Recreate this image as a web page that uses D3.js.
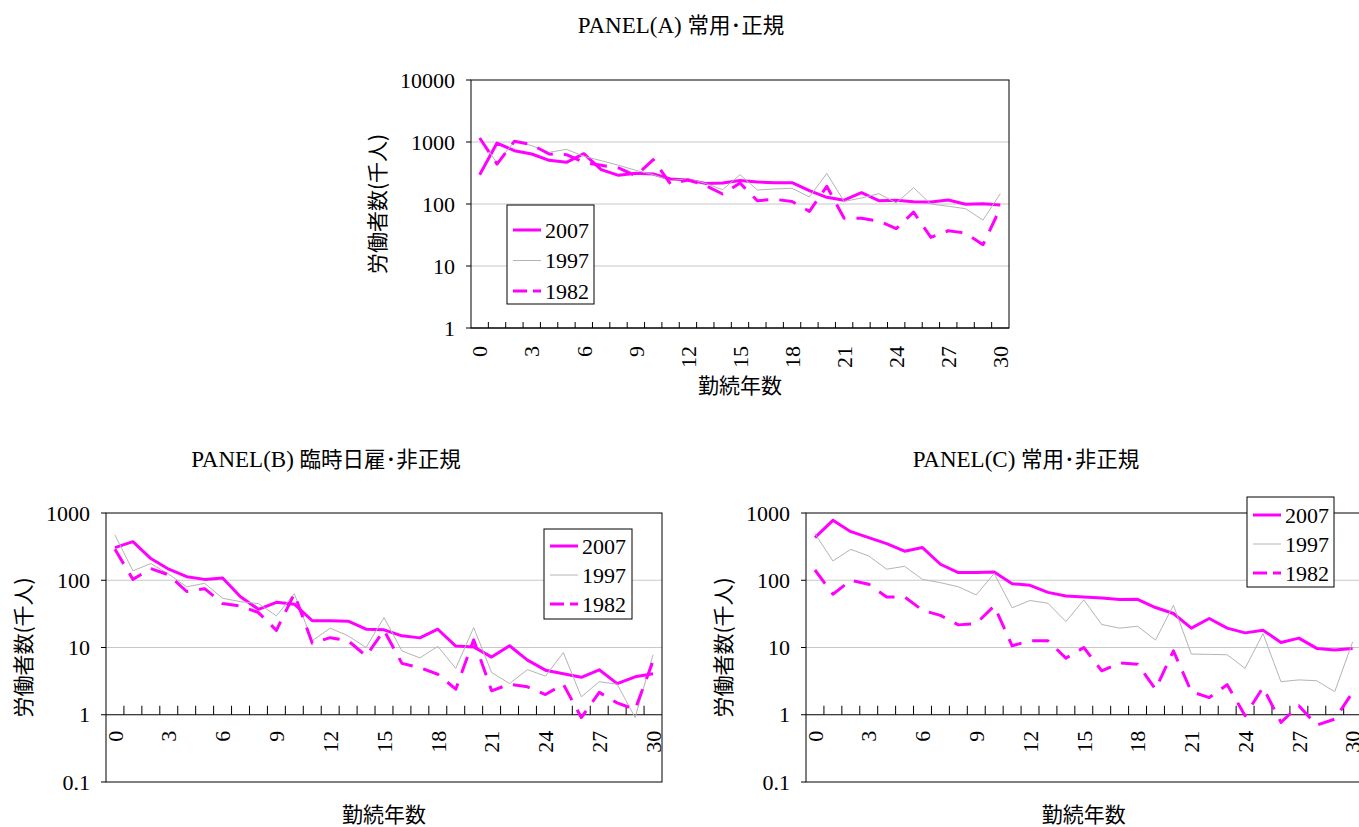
<!DOCTYPE html>
<html>
<head>
<meta charset="utf-8">
<script src="https://cdn.jsdelivr.net/npm/d3@7"></script>
<style>
  body { margin: 0; background: #fff; }
  svg { display: block; background: #fff; }
  text { font-family: "Liberation Serif", "Times New Roman", serif; fill: #000; }
  .cjk { font-family: "Noto Sans CJK JP", sans-serif; }
  .grid { stroke: #c8c8c8; stroke-width: 1.2; }
  .frame { fill: none; stroke: #000; stroke-width: 1; }
  .axis-line { stroke: #000; stroke-width: 1; }
  .legend-box { fill: #fff; stroke: #000; stroke-width: 1; }
</style>
</head>
<body>
<div id="chart"></div>
<script>
// 勤続年数 categories
const tenure = [0, 1, 2, 3, 4, 5, 6, 7, 8, 9, 10, 11, 12, 13, 14, 15,
  16, 17, 18, 19, 20, 21, 22, 23, 24, 25, 26, 27, 28, 29, 30];
const xTickLabels = [0, 3, 6, 9, 12, 15, 18, 21, 24, 27, 30];
const seriesNames = ['2007', '1997', '1982'];
const yTicksA = [1, 10, 100, 1000, 10000];
const yTicksBC = [0.1, 1, 10, 100, 1000];

// PANEL(A) 常用・正規 (千人)
const a2007 = [297, 963, 724, 640, 506, 470, 648, 358, 290, 312, 305, 253, 244, 215, 218, 240,
  226, 221, 221, 164, 128, 115, 152, 113, 115, 109, 108, 116, 99, 101, 96];
const a1997 = [1150, 458, 1025, 873, 681, 762, 588, 500, 421, 349, 297, 238, 256, 215, 170, 297,
  168, 175, 179, 130, 312, 110, 125, 147, 104, 183, 100, 92, 84, 55, 147];
const a1982 = [1161, 441, 1025, 906, 640, 625, 470, 421, 381, 286, 518, 210, 244, 200, 145, 218,
  113, 119, 110, 76, 193, 59, 59, 53, 40, 74, 29, 37, 34, 22, 86];

// PANEL(B) 臨時日雇・非正規
const b2007 = [305, 375, 210, 146, 113, 103, 108, 57, 37, 47, 44, 25, 25, 24.6, 18.7, 18.3,
  14.9, 13.9, 18.7, 10.5, 10.2, 7.2, 10.6, 6.5, 4.6, 4.06, 3.6, 4.66, 2.9, 3.67, 4.06];
const b1997 = [471, 138, 177, 123, 80, 90, 54, 48, 45, 29.5, 63, 12.6, 19.4, 14.9, 10, 27.9,
  8.9, 7.0, 10.4, 4.9, 19.8, 4.25, 2.9, 4.7, 3.75, 8.4, 1.85, 3.1, 2.85, 0.91, 7.8];
const b1982 = [289, 103, 149, 120, 68, 75, 45, 41.5, 33, 18, 63, 11.6, 14, 12.6, 7.5, 18,
  5.8, 5.0, 4.0, 2.4, 13, 2.27, 2.85, 2.6, 2.0, 2.85, 0.91, 2.15, 1.5, 1.2, 6.3];

// PANEL(C) 常用・非正規
const c2007 = [430, 778, 528, 430, 351, 270, 306, 173, 130, 130, 133, 89, 84, 66, 58.5, 56.5,
  54.6, 51.7, 52, 39.3, 32, 19.4, 27, 19.4, 16.5, 18.1, 11.9, 13.8, 9.7, 9.2, 9.7];
const c1997 = [493, 194, 288, 230, 146, 161, 103, 92, 80, 60.5, 126, 39, 50, 45.5, 24.3, 51,
  22, 19.4, 20.7, 12.9, 42.5, 8.0, 7.9, 7.8, 4.9, 16.1, 3.1, 3.3, 3.2, 2.2, 12.1];
const c1982 = [142, 62, 100, 87, 56.5, 56.5, 35.8, 30, 21.7, 22.7, 41.6, 10.6, 12.6, 12.6, 6.95, 10,
  4.5, 5.9, 5.65, 2.4, 8.9, 2.2, 1.8, 2.8, 0.97, 2.55, 0.77, 1.36, 0.70, 0.86, 2.15];

const width = 1359;
const height = 827;

const lineStyles = [
  { color: '#ff00ff', width: 3, dash: null },
  { color: '#b4b4b4', width: 1, dash: null },
  { color: '#ff00ff', width: 3, dash: '17,11' },
];

const svg = d3.select('#chart')
  .append('svg')
    .attr('width', width)
    .attr('height', height);

const fmt = d => (d < 1 ? d3.format('.1f')(d) : d3.format('d')(d));

function drawPanel(p) {
  const g = svg.append('g');

  const xScale = d3.scaleBand()
    .domain(tenure)
    .range([p.left, p.right])
    .padding(0);

  const yScale = d3.scaleLog()
    .domain(p.yDomain)
    .range([p.bottom, p.top]);

  const cx = d => xScale(d) + xScale.bandwidth() / 2;

  // gridlines
  g.selectAll('.grid')
      .data(p.yTicks.filter(t => t !== p.yDomain[0] && t !== p.yDomain[1] && t !== p.axisAt))
    .enter().append('line')
      .attr('class', 'grid')
      .attr('x1', p.left)
      .attr('x2', p.right)
      .attr('y1', d => yScale(d))
      .attr('y2', d => yScale(d));

  // frame
  g.append('rect')
    .attr('class', 'frame')
    .attr('x', p.left)
    .attr('y', p.top)
    .attr('width', p.right - p.left)
    .attr('height', p.bottom - p.top);

  // y ticks + labels
  g.selectAll('.ytick')
      .data(p.yTicks)
    .enter().append('line')
      .attr('class', 'axis-line')
      .attr('x1', p.left - 5)
      .attr('x2', p.left)
      .attr('y1', d => yScale(d))
      .attr('y2', d => yScale(d));

  g.selectAll('.ylabel')
      .data(p.yTicks)
    .enter().append('text')
      .attr('x', p.left - 16)
      .attr('y', d => yScale(d))
      .attr('dy', '0.35em')
      .attr('text-anchor', 'end')
      .style('font-size', '22px')
      .text(fmt);

  // x axis (at value p.axisAt)
  const axisY = yScale(p.axisAt);
  g.append('line')
    .attr('class', 'axis-line')
    .attr('x1', p.left)
    .attr('x2', p.right)
    .attr('y1', axisY)
    .attr('y2', axisY);

  g.selectAll('.xtick')
      .data(tenure.slice(1))
    .enter().append('line')
      .attr('class', 'axis-line')
      .attr('x1', d => xScale(d))
      .attr('x2', d => xScale(d))
      .attr('y1', axisY)
      .attr('y2', axisY - p.tickLen);

  g.selectAll('.xlabel')
      .data(xTickLabels)
    .enter().append('text')
      .attr('transform', d => `translate(${cx(d)}, ${axisY + p.labelGap}) rotate(-90)`)
      .attr('dy', '0.35em')
      .attr('text-anchor', 'end')
      .style('font-size', '22px')
      .text(d => d);

  // lines
  const line = d3.line()
    .x((d, i) => cx(tenure[i]))
    .y(d => yScale(d));

  p.series.forEach((values, i) => {
    const s = lineStyles[i];
    g.append('path')
      .attr('d', line(values))
      .attr('fill', 'none')
      .attr('stroke', s.color)
      .attr('stroke-width', s.width)
      .attr('stroke-dasharray', s.dash)
      .attr('stroke-linejoin', 'round');
  });

  // legend
  const lg = p.legend;
  g.append('rect')
    .attr('class', 'legend-box')
    .attr('x', lg.x)
    .attr('y', lg.y)
    .attr('width', lg.w)
    .attr('height', lg.h);

  seriesNames.forEach((name, i) => {
    const s = lineStyles[i];
    const ry = lg.y + lg.first + i * lg.step;
    g.append('line')
      .attr('x1', lg.x + 6)
      .attr('x2', lg.x + 34)
      .attr('y1', ry)
      .attr('y2', ry)
      .attr('stroke', s.color)
      .attr('stroke-width', s.width)
      .attr('stroke-dasharray', s.dash ? '14,6' : null);
    g.append('text')
      .attr('x', lg.x + 38)
      .attr('y', ry)
      .attr('dy', '0.35em')
      .style('font-size', '22px')
      .text(name);
  });

  // titles
  const t = g.append('text')
    .attr('x', p.titleX)
    .attr('y', p.titleY)
    .attr('text-anchor', 'middle');
  t.append('tspan').style('font-size', '23px').text(p.titleLatin);
  t.append('tspan').attr('class', 'cjk').style('font-size', '21.5px').text(p.titleCjk);

  g.append('text')
    .attr('class', 'cjk')
    .attr('transform', `translate(${p.yTitleX}, ${(p.top + p.bottom) / 2}) rotate(-90)`)
    .attr('dy', '0.35em')
    .attr('text-anchor', 'middle')
    .style('font-size', '21px')
    .text('労働者数(千人)');

  g.append('text')
    .attr('class', 'cjk')
    .attr('x', (p.left + p.right) / 2)
    .attr('y', p.xTitleY)
    .attr('dy', '0.35em')
    .attr('text-anchor', 'middle')
    .style('font-size', '21px')
    .text('勤続年数');
}

drawPanel({
  left: 471, right: 1009, top: 80, bottom: 328,
  yDomain: [1, 10000], yTicks: yTicksA, axisAt: 1,
  tickLen: 6, labelGap: 18,
  series: [a2007, a1997, a1982],
  legend: { x: 507, y: 205, w: 87, h: 99, first: 25, step: 30.5 },
  titleLatin: 'PANEL(A) ', titleCjk: '常用･正規', titleX: 681, titleY: 33,
  yTitleX: 378, xTitleY: 386,
});

drawPanel({
  left: 106, right: 662, top: 513, bottom: 782,
  yDomain: [0.1, 1000], yTicks: yTicksBC, axisAt: 1,
  tickLen: 9, labelGap: 16,
  series: [b2007, b1997, b1982],
  legend: { x: 544, y: 529, w: 88, h: 90, first: 17, step: 29 },
  titleLatin: 'PANEL(B) ', titleCjk: '臨時日雇･非正規', titleX: 326, titleY: 467,
  yTitleX: 24, xTitleY: 815,
});

drawPanel({
  left: 806, right: 1361.6, top: 513, bottom: 782,
  yDomain: [0.1, 1000], yTicks: yTicksBC, axisAt: 1,
  tickLen: 9, labelGap: 16,
  series: [c2007, c1997, c1982],
  legend: { x: 1247, y: 497, w: 87, h: 90, first: 18, step: 29 },
  titleLatin: 'PANEL(C) ', titleCjk: '常用･非正規', titleX: 1026, titleY: 467,
  yTitleX: 724, xTitleY: 815,
});
</script>
</body>
</html>
